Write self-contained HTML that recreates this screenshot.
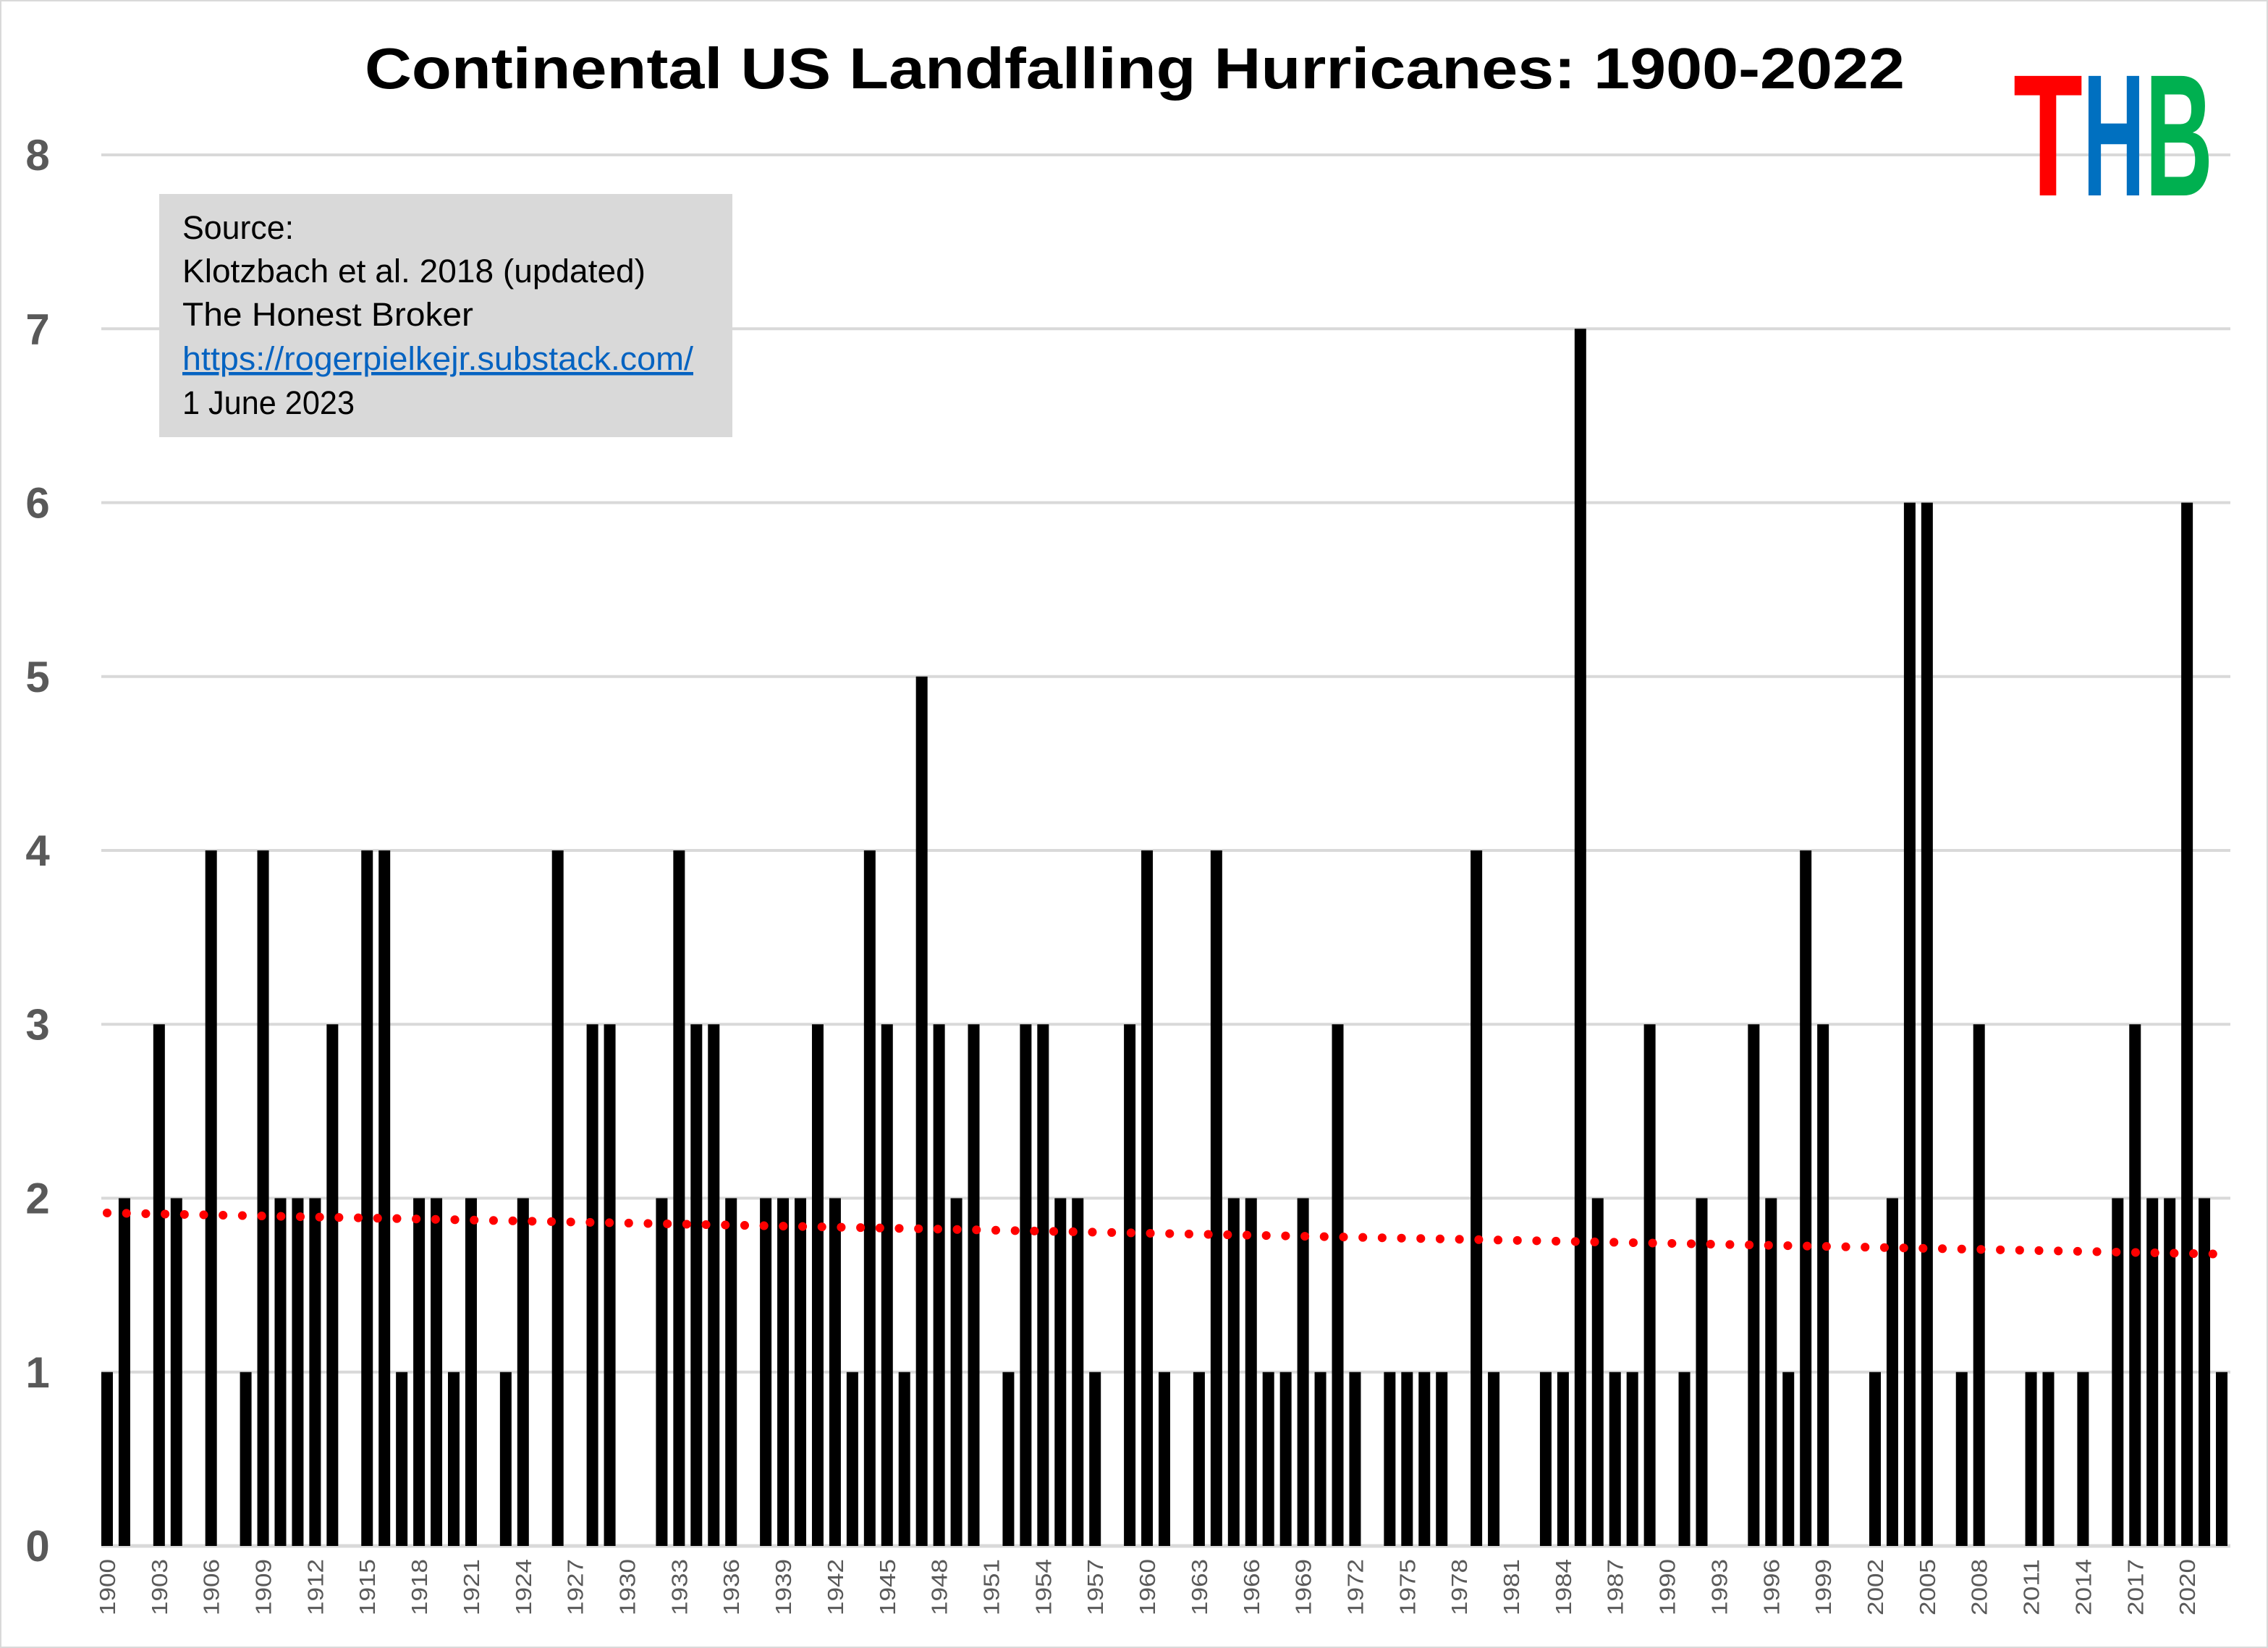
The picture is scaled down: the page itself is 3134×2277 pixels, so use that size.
<!DOCTYPE html>
<html><head><meta charset="utf-8"><style>
html,body{margin:0;padding:0;background:#fff;}
svg{display:block;}
</style></head><body>
<svg id="chart" width="3134" height="2277" viewBox="0 0 3134 2277" xmlns="http://www.w3.org/2000/svg">
<rect x="1" y="1" width="3132" height="2275" fill="#fff" stroke="#d9d9d9" stroke-width="2"/>
<text x="1568" y="122" text-anchor="middle" font-family="'Liberation Sans',sans-serif" font-weight="bold" font-size="80" textLength="2128" lengthAdjust="spacingAndGlyphs" fill="#000">Continental US Landfalling Hurricanes: 1900-2022</text>
<g id="grid"></g>
<g id="yticks"></g>
<g id="bars"></g>
<g id="xticks"></g>
<path id="trend" fill="none" stroke="#ff0000" stroke-width="12" stroke-linecap="round" stroke-dasharray="0.1 26.6"/>
<g>
<rect x="220" y="268" width="792" height="336" fill="#d9d9d9"/>
<g font-family="'Liberation Sans',sans-serif" font-size="45" fill="#000" lengthAdjust="spacingAndGlyphs">
<text x="252" y="330" textLength="154" lengthAdjust="spacingAndGlyphs">Source:</text>
<text x="252" y="390" textLength="640" lengthAdjust="spacingAndGlyphs">Klotzbach et al. 2018 (updated)</text>
<text x="252" y="450" textLength="402" lengthAdjust="spacingAndGlyphs">The Honest Broker</text>
<text x="252" y="511" fill="#0563c1" text-decoration="underline" textLength="706" lengthAdjust="spacingAndGlyphs">https://rogerpielkejr.substack.com/</text>
<text x="252" y="572" textLength="238" lengthAdjust="spacingAndGlyphs">1 June 2023</text>
</g></g>
<g font-family="'Liberation Sans',sans-serif" font-weight="bold" font-size="240">
<text x="2782" y="270" fill="#ff0000" textLength="96" lengthAdjust="spacingAndGlyphs">T</text>
<text x="2878" y="270" fill="#0070c0" textLength="86" lengthAdjust="spacingAndGlyphs">H</text>
<text x="2964" y="270" fill="#00b050" textLength="94" lengthAdjust="spacingAndGlyphs">B</text>
</g>
</svg>
<script>
const startYear = 1900;
const counts = [
1,2,0,3,2,0,4,0,1,4, 2,2,2,3,0,4,4,1,2,2,
1,2,0,1,2,0,4,0,3,3, 0,0,2,4,3,3,2,0,2,2,
2,3,2,1,4,3,1,5,3,2, 3,0,1,3,3,2,2,1,0,3,
4,1,0,1,4,2,2,1,1,2, 1,3,1,0,1,1,1,1,0,4,
1,0,0,1,1,7,2,1,1,3, 0,1,2,0,0,3,2,1,4,3,
0,0,1,2,6,6,0,1,3,0, 0,1,1,0,1,0,2,3,2,2,
6,2,1
];
const yTicks = [0,1,2,3,4,5,6,7,8];
const labelEvery = 3;

const NS = 'http://www.w3.org/2000/svg';
const plotL = 136, plotR = 3082, y0 = 2136, y8 = 214;
const n = counts.length;
const band = (plotR - plotL) / n;
const xC = i => plotL + band * (i + 0.5);
const yS = v => y0 - (y0 - y8) * v / 8;
const barW = 16;

const grid = document.getElementById('grid');
const yt = document.getElementById('yticks');
yTicks.forEach(t => {
  const l = document.createElementNS(NS, 'line');
  
  
  l.setAttribute('x1', plotL + 4); l.setAttribute('x2', plotR);
  l.setAttribute('y1', yS(t)); l.setAttribute('y2', yS(t));
  l.setAttribute('stroke', '#d9d9d9'); l.setAttribute('stroke-width', t === 0 ? 5 : 4);
  grid.appendChild(l);
  const tx = document.createElementNS(NS, 'text');
  
  
  tx.setAttribute('x', 52); tx.setAttribute('y', yS(t) + 21);
  tx.setAttribute('text-anchor', 'middle');
  tx.setAttribute('font-family', "'Liberation Sans',sans-serif");
  tx.setAttribute('font-weight', 'bold');
  tx.setAttribute('font-size', '60');
  tx.setAttribute('fill', '#595959');
  tx.textContent = t;
  yt.appendChild(tx);
});

const bars = document.getElementById('bars');
const xt = document.getElementById('xticks');
counts.forEach((v, i) => {
  if (v > 0) {
    const r = document.createElementNS(NS, 'rect');
    
    
    r.setAttribute('x', xC(i) - barW / 2); r.setAttribute('width', barW);
    r.setAttribute('y', yS(v)); r.setAttribute('height', yS(0) - yS(v));
    r.setAttribute('fill', '#000');
    bars.appendChild(r);
  }
  if (i % labelEvery === 0) {
    const tx = document.createElementNS(NS, 'text');
    
    
    const x = xC(i) + 11, y = 2154;
    tx.setAttribute('x', x); tx.setAttribute('y', y);
    tx.setAttribute('transform', 'rotate(-90 ' + x + ' ' + y + ')');
    tx.setAttribute('text-anchor', 'end');
    tx.setAttribute('font-family', "'Liberation Sans',sans-serif");
    tx.setAttribute('font-size', '31');
    tx.setAttribute('textLength', '78');
    tx.setAttribute('lengthAdjust', 'spacingAndGlyphs');
    tx.setAttribute('fill', '#595959');
    tx.textContent = startYear + i;
    xt.appendChild(tx);
  }
});

// linear trendline (least squares over the counts)
let sx = 0, sy = 0, sxx = 0, sxy = 0;
counts.forEach((v, i) => { sx += i; sy += v; sxx += i * i; sxy += i * v; });
const slope = (n * sxy - sx * sy) / (n * sxx - sx * sx);
const icpt = (sy - slope * sx) / n;
document.getElementById('trend').setAttribute('d',
  'M' + xC(0) + ' ' + yS(icpt) + ' L' + xC(n - 1) + ' ' + yS(icpt + slope * (n - 1)));
</script>
</body></html>
